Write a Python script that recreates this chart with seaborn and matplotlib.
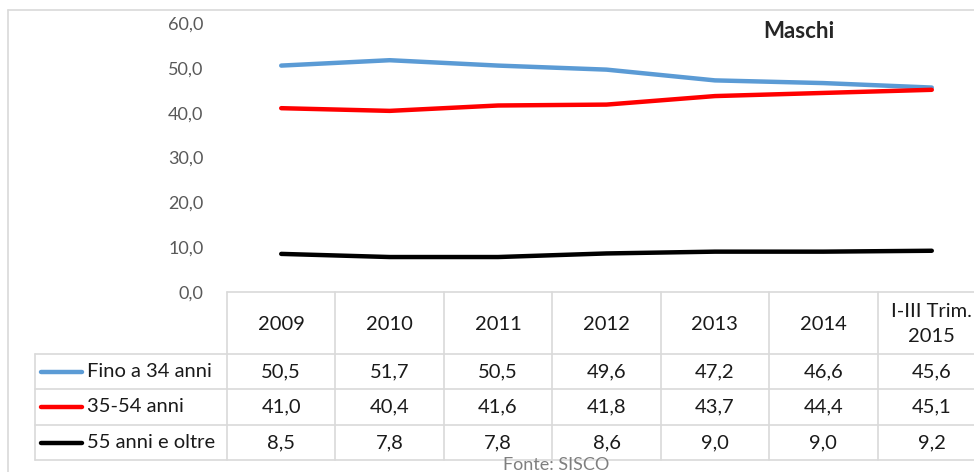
import matplotlib
matplotlib.use("Agg")
import matplotlib.pyplot as plt
import matplotlib.transforms as mtransforms
from matplotlib.lines import Line2D
import seaborn as sns
import pandas as pd

anni = ["2009", "2010", "2011", "2012", "2013", "2014", "I-III Trim.\n2015"]
fino_34 = [50.5, 51.7, 50.5, 49.6, 47.2, 46.6, 45.6]
da_35_54 = [41.0, 40.4, 41.6, 41.8, 43.7, 44.4, 45.1]
oltre_55 = [8.5, 7.8, 7.8, 8.6, 9.0, 9.0, 9.2]
serie = ["Fino a 34 anni", "35-54 anni", "55 anni e oltre"]
colori = ["#5B9BD5", "#FF0000", "#000000"]

df = pd.DataFrame({
    "x": list(range(len(anni))) * 3,
    "valore": fino_34 + da_35_54 + oltre_55,
    "serie": [s for s in serie for _ in anni],
})

sns.set_style("white")
plt.rcParams["font.family"] = ["Lato", "DejaVu Sans"]

W, H = 974, 472
fig = plt.figure(figsize=(W / 100, H / 100), dpi=100)

def fx(x):
    return x / W

def fy(y):
    return 1 - y / H

# area del grafico in pixel: sinistra 227, destra 986 (tagliata), 0 a y=292, 60 a y=23
ax = fig.add_axes([fx(227), fy(292), fx(986) - fx(227), fy(23) - fy(292)])
sns.lineplot(data=df, x="x", y="valore", hue="serie", palette=colori,
             linewidth=3.2, legend=False, ax=ax, solid_capstyle="round")
ax.set_xlim(-0.5, len(anni) - 0.5)
ax.set_ylim(0, 60)
ax.set_yticks(range(0, 61, 10))
ax.set_yticklabels([f"{v},0" for v in range(0, 61, 10)], color="#595959", fontsize=13)
ax.tick_params(axis="y", length=0, pad=17)
ax.set_xticks([])
ax.set_xlabel("")
ax.set_ylabel("")
for s in ax.spines.values():
    s.set_visible(False)

fig.text(fx(799), fy(32), "Maschi", fontsize=16, fontweight="bold",
         ha="center", va="center")

# cornice esterna
griglia = "#D9D9D9"
fig.add_artist(Line2D([fx(8), fx(8)], [fy(10), fy(472)], color=griglia, lw=1.2))
fig.add_artist(Line2D([fx(8), 1], [fy(10), fy(10)], color=griglia, lw=1.2))

# tabella dati
col_w = (986 - 227) / len(anni)
righe_y = [292, 354, 389, 425, 460]
for k in range(len(anni) + 1):
    x = 227 + k * col_w
    fig.add_artist(Line2D([fx(x), fx(x)], [fy(292), fy(460)], color=griglia, lw=1.2))
fig.add_artist(Line2D([fx(35), fx(35)], [fy(354), fy(460)], color=griglia, lw=1.2))
fig.add_artist(Line2D([fx(227), 1], [fy(292), fy(292)], color=griglia, lw=1.2))
for y in righe_y[1:]:
    fig.add_artist(Line2D([fx(35), 1], [fy(y), fy(y)], color=griglia, lw=1.2))

blend = mtransforms.blended_transform_factory(ax.transData, fig.transFigure)
for i, a in enumerate(anni):
    ax.text(i, fy(324), a, transform=blend, ha="center", va="center",
            fontsize=14.5, color="#1a1a1a", linespacing=1.55)

valori = [fino_34, da_35_54, oltre_55]
for r, (nome, vals, c) in enumerate(zip(serie, valori, colori)):
    yc = (righe_y[r + 1] + righe_y[r + 2]) / 2
    fig.add_artist(Line2D([fx(41), fx(82)], [fy(yc), fy(yc)], color=c, lw=3.2,
                          solid_capstyle="round"))
    fig.text(fx(87), fy(yc), nome, ha="left", va="center", fontsize=14.5, color="#1a1a1a")
    for i, v in enumerate(vals):
        ax.text(i, fy(yc), f"{v:.1f}".replace(".", ","), transform=blend,
                ha="center", va="center", fontsize=14.5, color="#1a1a1a")

fig.text(fx(556), fy(465), "Fonte: SISCO", ha="center", va="center",
         fontsize=13, color="#7f7f7f")

fig.savefig("out.png", dpi=100)
